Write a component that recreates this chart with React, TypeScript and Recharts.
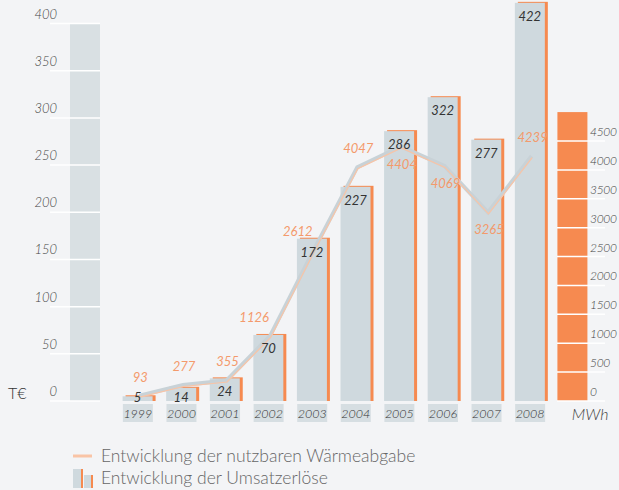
import React from "react";
import {
  ComposedChart,
  Bar,
  Line,
  XAxis,
  YAxis,
  ReferenceArea,
  LabelList,
} from "recharts";

// values
const years = ["1999", "2000", "2001", "2002", "2003", "2004", "2005", "2006", "2007", "2008"];
const umsatz = [5, 14, 24, 70, 172, 227, 286, 322, 277, 422]; // T€
const waerme = [93, 277, 355, 1126, 2612, 4047, 4404, 4069, 3265, 4239]; // MWh
const leftTicks = [0, 50, 100, 150, 200, 250, 300, 350, 400];
const rightTicks = [0, 500, 1000, 1500, 2000, 2500, 3000, 3500, 4000, 4500];
const leftCat = " ";
const rightCat = "MWh";

const rows = [
  { cat: leftCat },
  ...years.map((y, i) => ({ cat: y, umsatz: umsatz[i], waerme: waerme[i] })),
  { cat: rightCat },
];

const BG = "#f3f4f6";
const GRAY = "#cfd9de";
const ORANGE = "#f68a50";
const LINE_ORANGE = "#f9c4a6";
const LINE_GRAY = "#c8d2d7";
const FONT = "Lato, 'Open Sans', sans-serif";

const BarShape = (p: any) => {
  const { x, y, width, height } = p;
  if (!height || height <= 0) return null;
  const w = width - 3;
  return (
    <g>
      <rect x={x + 3} y={y - 1} width={w} height={height + 1} fill={ORANGE} />
      <rect x={x} y={y} width={w} height={height} fill={GRAY} />
    </g>
  );
};

const BarValue = (p: any) => {
  const { x, y, width, value } = p;
  if (value == null) return null;
  return (
    <text
      x={x + (width - 3) / 2}
      y={Math.min(y + 13, 397)}
      textAnchor="middle"
      dominantBaseline="central"
      fontFamily={FONT}
      fontStyle="italic"
      fontSize={13}
      fill="#333"
    >
      {value}
    </text>
  );
};

const LineValue = (p: any) => {
  const { x, y, value } = p;
  if (value == null) return null;
  const i = waerme.indexOf(value);
  const prev = i > 0 ? waerme[i - 1] : -Infinity;
  const next = i < waerme.length - 1 ? waerme[i + 1] : Infinity;
  const above = prev < value && next >= value;
  const steep = next !== Infinity && next - value > 1000;
  return (
    <text
      x={x + (steep ? -16 : 1)}
      y={above ? y - 19 : y + 17}
      textAnchor="middle"
      dominantBaseline="central"
      fontFamily={FONT}
      fontStyle="italic"
      fontSize={13}
      fill="#f39a6c"
    >
      {value}
    </text>
  );
};

const LeftTick = (p: any) => {
  const { x, y, payload } = p;
  return (
    <g>
      <line x1={x - 24} x2={x + 26} y1={y} y2={y} stroke="#fff" strokeWidth={1.5} />
      <text
        x={x - 17}
        y={y - 5}
        textAnchor="end"
        fontFamily={FONT}
        fontStyle="italic"
        fontWeight={300}
        fontSize={13}
        fill="#444"
      >
        {payload.value}
      </text>
      {payload.value === 0 && (
        <text x={x - 66} y={y - 2} fontFamily={FONT} fontWeight={300} fontSize={16} fill="#333">
          T€
        </text>
      )}
    </g>
  );
};

const RightTick = (p: any) => {
  const { x, y, payload } = p;
  return (
    <g>
      <line x1={x - 40} x2={x + 8} y1={y} y2={y} stroke="#fff" strokeWidth={1.5} />
      <text
        x={x - 7}
        y={y - 5}
        textAnchor="start"
        fontFamily={FONT}
        fontStyle="italic"
        fontWeight={300}
        fontSize={12}
        letterSpacing={-0.3}
        fill="#444"
      >
        {payload.value}
      </text>
    </g>
  );
};

const CatTick = (p: any) => {
  const { x, y, payload } = p;
  const v = payload.value;
  if (v === leftCat) return null;
  if (v === rightCat) {
    return (
      <text
        x={x + 15}
        y={y + 12}
        textAnchor="middle"
        dominantBaseline="central"
        fontFamily={FONT}
        fontStyle="italic"
        fontWeight={300}
        fontSize={16}
        fill="#444"
      >
        {v}
      </text>
    );
  }
  return (
    <g>
      <rect x={x - 16.5} y={y + 3} width={30} height={18} fill="#d6dee2" />
      <text
        x={x - 1.5}
        y={y + 12}
        textAnchor="middle"
        dominantBaseline="central"
        fontFamily={FONT}
        fontStyle="italic"
        fontWeight={300}
        fontSize={12.5}
        fill="#333"
      >
        {v}
      </text>
    </g>
  );
};

const LeftColumn = (p: any) => (
  <rect x={p.x - 4} y={p.y} width={30} height={p.height} fill="#d9e0e3" />
);
const RightColumn = (p: any) => (
  <rect x={p.x + 4} y={p.y} width={30} height={p.height} fill={ORANGE} />
);

const LegendBlock = () => (
  <div
    style={{
      position: "absolute",
      left: 73,
      top: 445,
      fontFamily: FONT,
      fontWeight: 300,
      fontSize: 17.5,
      color: "#666",
      lineHeight: "22px",
    }}
  >
    <div style={{ display: "flex", alignItems: "center" }}>
      <svg width={28} height={20}>
        <line x1={0} x2={19} y1={10} y2={10} stroke={LINE_ORANGE} strokeWidth={3} />
      </svg>
      <span>Entwicklung der nutzbaren Wärmeabgabe</span>
    </div>
    <div style={{ display: "flex", alignItems: "center" }}>
      <svg width={28} height={20}>
        <rect x={0} y={1} width={9} height={19} fill={GRAY} />
        <rect x={8} y={1} width={2} height={19} fill={ORANGE} />
        <rect x={11} y={7} width={8} height={13} fill={GRAY} />
        <rect x={18} y={7} width={2} height={13} fill={ORANGE} />
      </svg>
      <span>Entwicklung der Umsatzerlöse</span>
    </div>
  </div>
);

export default function App() {
  return (
    <div
      style={{
        position: "absolute",
        left: 0,
        top: 0,
        width: 619,
        height: 490,
        background: BG,
        overflow: "hidden",
      }}
    >
      <ComposedChart
        width={619}
        height={490}
        data={rows}
        margin={{ top: 0, right: 0, left: 0, bottom: 59 }}
        barCategoryGap={0}
      >
        <XAxis
          dataKey="cat"
          axisLine={false}
          tickLine={false}
          tickSize={0}
          tickMargin={0}
          height={30}
          interval={0}
          tick={<CatTick />}
        />
        <YAxis
          yAxisId="left"
          orientation="left"
          width={74}
          domain={[0, 425]}
          ticks={leftTicks}
          axisLine={false}
          tickLine={false}
          tickSize={0}
          tickMargin={0}
          tick={<LeftTick />}
        />
        <YAxis
          yAxisId="right"
          orientation="right"
          width={22}
          domain={[0, 6940]}
          ticks={rightTicks}
          axisLine={false}
          tickLine={false}
          tickSize={0}
          tickMargin={0}
          tick={<RightTick />}
        />
        <ReferenceArea
          yAxisId="left"
          x1={leftCat}
          x2={leftCat}
          y1={0}
          y2={400}
          ifOverflow="visible"
          shape={<LeftColumn />}
        />
        <ReferenceArea
          yAxisId="right"
          x1={rightCat}
          x2={rightCat}
          y1={0}
          y2={5000}
          ifOverflow="visible"
          shape={<RightColumn />}
        />
        <Bar
          yAxisId="left"
          dataKey="umsatz"
          barSize={33}
          shape={<BarShape />}
          isAnimationActive={false}
        >
          <LabelList dataKey="umsatz" content={<BarValue />} />
        </Bar>
        <Line
          yAxisId="right"
          dataKey="waerme"
          stroke={LINE_GRAY}
          strokeWidth={4}
          dot={false}
          activeDot={false}
          type="linear"
          isAnimationActive={false}
        >
          <LabelList dataKey="waerme" content={<LineValue />} />
        </Line>
        <Line
          yAxisId="right"
          dataKey="waerme"
          stroke={LINE_ORANGE}
          strokeWidth={1.2}
          dot={false}
          activeDot={false}
          type="linear"
          transform="translate(0.5,1.5)"
          isAnimationActive={false}
        />
      </ComposedChart>
      <LegendBlock />
    </div>
  );
}
